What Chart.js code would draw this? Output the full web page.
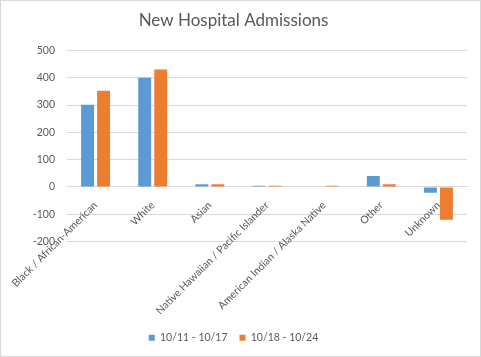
<!DOCTYPE html>
<html>
<head>
<meta charset="utf-8">
<script src="https://cdn.jsdelivr.net/npm/chart.js@4/dist/chart.umd.min.js"></script>
<style>
  html, body { margin: 0; padding: 0; background: #ffffff; }
  #wrap { width: 481px; height: 357px; position: relative; }
</style>
</head>
<body>
<div id="wrap"><canvas id="c" width="481" height="357"></canvas></div>
<script>
const categories = [
  "Black / African-American",
  "White",
  "Asian",
  "Native Hawaiian / Pacific Islander",
  "American Indian / Alaska Native",
  "Other",
  "Unknown"
];
const seriesNames = ["10/11 - 10/17", "10/18 - 10/24"];
const week1 = [301, 400, 10, 4, 0, 40, -21];
const week2 = [352, 430, 10, 4, 4, 10, -120];
const yMin = -200, yMax = 500, yStep = 100;

const textColor = '#595959';
const gridColor = '#d9d9d9';
const fontFamily = 'Lato, "Open Sans", sans-serif';

const framePlugin = {
  id: 'frame',
  afterDraw(chart) {
    const ctx = chart.ctx;
    ctx.save();
    ctx.strokeStyle = '#d9d9d9';
    ctx.lineWidth = 1;
    ctx.strokeRect(0.5, 0.5, chart.width - 1, chart.height - 1);
    ctx.restore();
  }
};

new Chart(document.getElementById('c'), {
  type: 'bar',
  data: {
    labels: categories,
    datasets: [
      { label: seriesNames[0], data: week1, backgroundColor: '#5B9BD5', xAxisID: 'x' },
      { label: seriesNames[1], data: week2, backgroundColor: '#ED7D31', xAxisID: 'x' }
    ]
  },
  options: {
    responsive: false,
    animation: false,
    devicePixelRatio: 1,
    categoryPercentage: 0.56,
    barPercentage: 0.81,
    layout: { padding: { left: 0, right: 14, top: 0, bottom: 4 } },
    plugins: {
      title: {
        display: true,
        text: 'New Hospital Admissions',
        color: textColor,
        font: { family: fontFamily, size: 17, weight: 'normal' },
        padding: { top: 10, bottom: 20 }
      },
      legend: {
        position: 'bottom',
        labels: {
          color: textColor,
          font: { family: fontFamily, size: 10.5 },
          boxWidth: 6,
          boxHeight: 6,
          padding: 12
        }
      },
      tooltip: { enabled: false }
    },
    scales: {
      x: {
        type: 'category',
        position: { y: 0 },
        grid: { display: false },
        border: { display: true, color: gridColor },
        ticks: {
          color: textColor,
          font: { family: fontFamily, size: 10.5 },
          minRotation: 45,
          maxRotation: 45,
          autoSkip: false,
          padding: 4
        }
      },
      x2: {
        type: 'category',
        position: 'bottom',
        display: true,
        grid: { display: false },
        border: { display: false },
        ticks: { display: false },
        afterFit(scale) { scale.height = 79; }
      },
      y: {
        min: yMin,
        max: yMax,
        ticks: {
          stepSize: yStep,
          color: textColor,
          font: { family: fontFamily, size: 10.5 },
          padding: 12
        },
        grid: { color: gridColor, drawTicks: false },
        border: { display: false },
        afterFit(scale) { scale.width = 67; }
      }
    }
  },
  plugins: [framePlugin]
});
</script>
</body>
</html>
